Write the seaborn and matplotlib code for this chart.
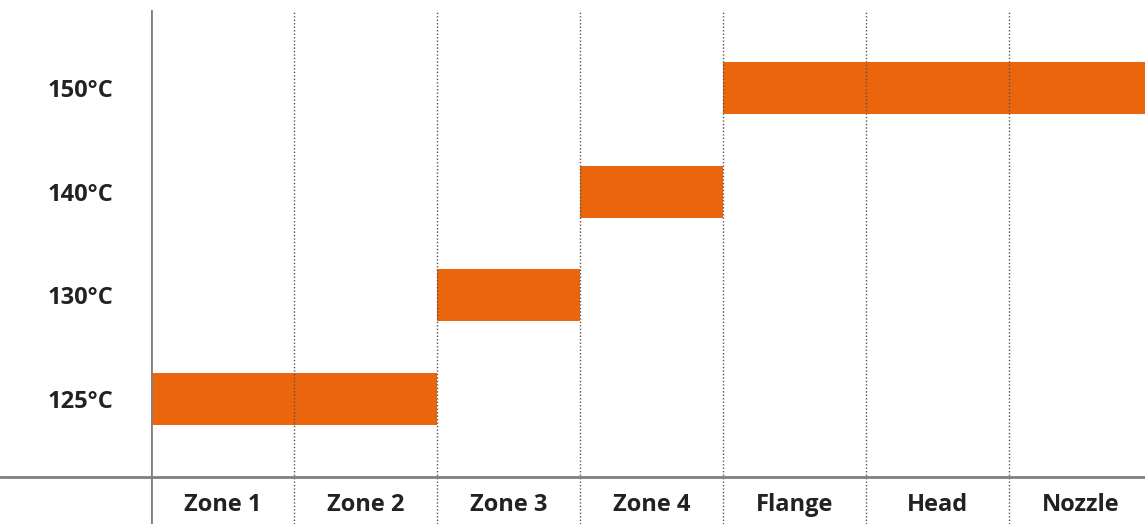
import numpy as np
import matplotlib.pyplot as plt
from matplotlib.lines import Line2D
import seaborn as sns

sns.set_theme(style="white")
plt.rcParams['font.family'] = ['Open Sans', 'DejaVu Sans']

zones = ["Zone 1", "Zone 2", "Zone 3", "Zone 4", "Flange", "Head", "Nozzle"]
zone_temps = [125, 125, 130, 140, 150, 150, 150]
levels = [125, 130, 140, 150]
level_labels = ["125°C", "130°C", "140°C", "150°C"]

orange = "#EB650D"
axis_grey = "#808080"

fig = plt.figure(figsize=(11.45, 5.24), dpi=100)
W, H = 1145, 524
ax = fig.add_axes([151 / W, 0, 1 - 151 / W, (H - 10) / H])

# bars: one column per zone, row = temperature level
ypos = [levels.index(t) for t in zone_temps]
ax.barh(ypos, [1] * len(zones), left=np.arange(len(zones)), height=0.5,
        color=orange, linewidth=0, zorder=2)

ax.set_xlim(0, (W - 151) / 143)
ax.set_ylim(-(H - 399) / 103.67, 3 + (88 - 10) / 103.67)

for s in ax.spines.values():
    s.set_visible(False)

# column separators
ax.axvline(0, color=axis_grey, lw=2, zorder=3)
for i in range(1, len(zones)):
    ax.axvline(i, color="#555555", lw=1, ls=(0, (1, 1.5)), zorder=3)

# horizontal base line across the whole figure
fig.add_artist(Line2D([0, 1], [(H - 477) / H] * 2, transform=fig.transFigure,
                      color=axis_grey, lw=2))

ax.set_yticks(range(len(levels)), level_labels, fontweight='bold')
ax.tick_params(axis='y', length=0, pad=27, labelsize=17, labelcolor="#222222")

ax.set_xticks(np.arange(len(zones)) + 0.5, zones, fontweight='bold')
ax.tick_params(axis='x', length=0, pad=-13.7, labelsize=17, labelcolor="#222222")
for lbl in ax.get_xticklabels():
    lbl.set_va('center')

ax.grid(False)
fig.savefig("out.png", dpi=100)
